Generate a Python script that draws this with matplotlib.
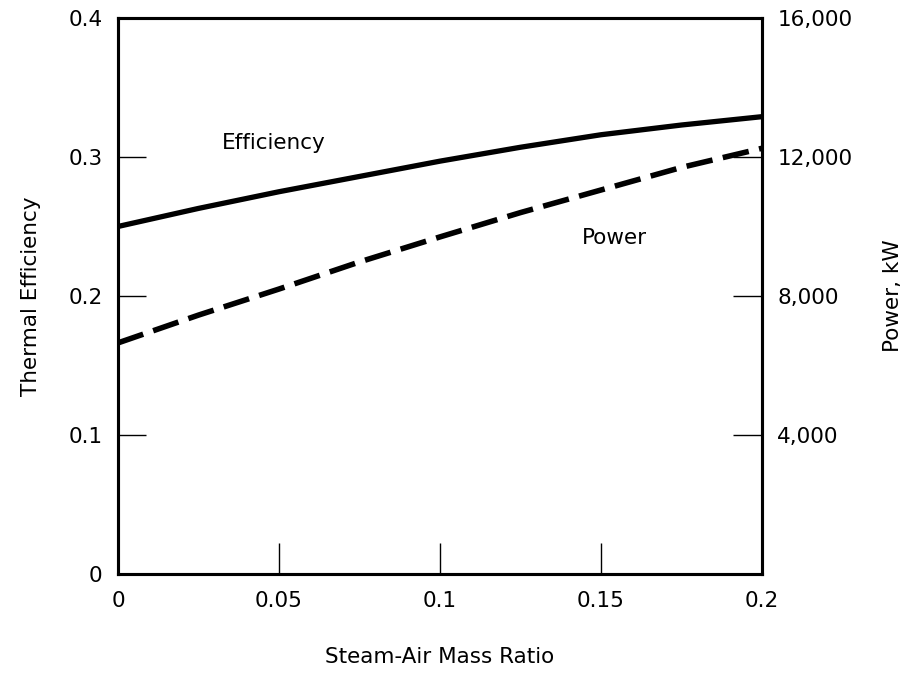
import matplotlib
matplotlib.use("Agg")
import matplotlib.pyplot as plt

plt.rcParams['font.family'] = ['DejaVu Sans']

# Data
ratio = [0.0, 0.025, 0.05, 0.075, 0.1, 0.125, 0.15, 0.175, 0.2]
efficiency = [0.250, 0.263, 0.275, 0.286, 0.297, 0.307, 0.316, 0.323, 0.329]
power_kw = [6650, 7450, 8200, 8980, 9700, 10400, 11050, 11700, 12250]

x_ticks = [0, 0.05, 0.1, 0.15, 0.2]
x_labels = ['0', '0.05', '0.1', '0.15', '0.2']
eff_ticks = [0, 0.1, 0.2, 0.3, 0.4]
eff_labels = ['0', '0.1', '0.2', '0.3', '0.4']
pow_ticks = [4000, 8000, 12000, 16000]
pow_labels = ['4,000', '8,000', '12,000', '16,000']

fig = plt.figure(figsize=(9.09, 6.73), dpi=100)
ax = fig.add_axes([0.1298, 0.1471, 0.7085, 0.8262])
ax2 = ax.twinx()

ax.plot(ratio, efficiency, color='black', lw=3.8, solid_capstyle='butt')
ax2.plot(ratio, power_kw, color='black', lw=4.0, linestyle=(0, (4.8, 1.9)))

ax.set_xlim(0, 0.2)
ax.set_ylim(0, 0.4)
ax2.set_ylim(0, 16000)

fs = 15.5
ax.set_xticks(x_ticks)
ax.set_xticklabels(x_labels, fontsize=fs)
ax.set_yticks(eff_ticks)
ax.set_yticklabels(eff_labels, fontsize=fs)
ax2.set_yticks(pow_ticks)
ax2.set_yticklabels(pow_labels, fontsize=fs)

ax.tick_params(axis='x', direction='in', length=22, width=1.0, pad=12)
ax.tick_params(axis='y', direction='in', length=20, width=1.0, pad=11, right=False)
ax2.tick_params(axis='y', direction='in', length=21, width=1.0, pad=11, left=False)

for a in (ax, ax2):
    for s in a.spines.values():
        s.set_linewidth(2.2)

ax.set_xlabel('Steam-Air Mass Ratio', fontsize=fs, labelpad=26)
ax.set_ylabel('Thermal Efficiency', fontsize=fs, labelpad=20)
ax2.set_ylabel('Power, kW', fontsize=fs, labelpad=22)

ax.text(0.0323, 0.31, 'Efficiency', fontsize=fs, va='center', ha='left')
ax.text(0.144, 0.2417, 'Power', fontsize=fs, va='center', ha='left')

fig.savefig('out.png', dpi=100)
